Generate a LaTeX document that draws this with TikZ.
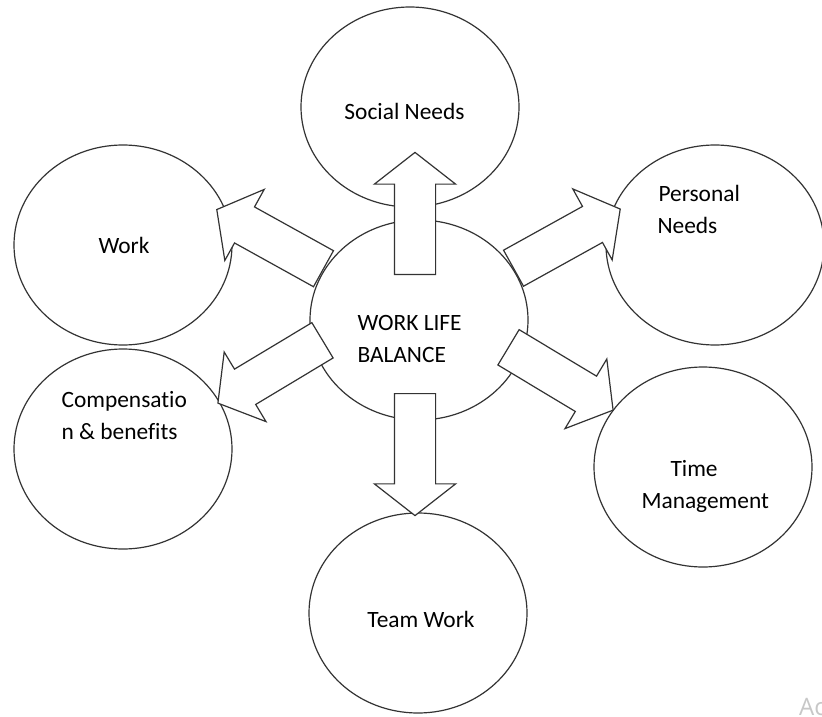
\documentclass[tikz,border=0pt]{standalone}
\usepackage{fontspec}
\setmainfont{Carlito}[Ligatures=NoCommon]
\newfontfamily\winfont{Open Sans}
\usetikzlibrary{shapes.geometric,shapes.arrows}

\begin{document}
\begin{tikzpicture}[
        x=1pt, y=-1pt,
        font=\fontsize{23.4}{32}\selectfont,
        bubble/.style={draw=black!80, line width=1.2pt, ellipse,
            minimum width=218pt, minimum height=200pt, inner sep=0pt},
        fatarrow/.style={draw=black!80, fill=white, line width=1.2pt,
            single arrow, anchor=tail, minimum height=122pt,
            inner xsep=0pt, inner ysep=20pt,
            single arrow head extend=20pt, single arrow tip angle=104},
        ]
        \fill [white] (0,0) rectangle (822,717);
        \useasboundingbox (0,0) rectangle (822,717);

        % the seven circles
        \foreach \n/\x/\y in {
            balance/419/320,
            social/410/107,
            work/123/245,
            personal/715/245,
            comp/123/449,
            time/703/467,
            team/418/613
        }
        {
            \node [bubble] (\n) at (\x,\y) {};
        }

        % fat arrows out of the middle, on top of the circles
        \foreach \n/\x/\y/\a in {
            toSocial/415/275/90,
            toTeam/415/393/-90,
            toWork/324/269/151,
            toPersonal/513/268.5/29,
            toComp/323/340/-149,
            toTime/508/347/-31
        }
        {
            \node [fatarrow, rotate=\a] (\n) at (\x,\y) {};
        }

        % labels (base of a two-line label is its second line)
        \node (balance-text) at (354,362.5) [anchor=base west, align=left] {WORK LIFE\\BALANCE};
        \node (social-text) at (404.5,119.5) [anchor=base] {Social Needs};
        \node (work-text) at (124,253.5) [anchor=base] {Work};
        \node (personal-text) at (655,233) [anchor=base west, align=left] {Personal\\\hspace*{-1pt}Needs};
        \node (comp-text) at (58,439) [anchor=base west, align=left] {Compensatio\\n \& benefits};
        \node (time-text) at (638,508.5) [anchor=base west, align=left] {\hspace*{29pt}Time\\Management};
        \node (team-text) at (421,627) [anchor=base] {Team Work};

        \node (corner-text) at (799,715) [anchor=base west, inner sep=0pt, text=black!22,
            font=\winfont\fontsize{24}{24}\selectfont] {Ac};
    \end{tikzpicture}
\end{document}
